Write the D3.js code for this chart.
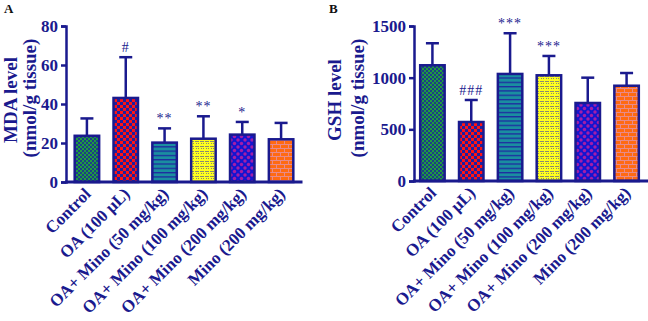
<!DOCTYPE html>
<html>
<head>
<meta charset="utf-8">
<script src="https://cdn.jsdelivr.net/npm/d3@7"></script>
<style>
  body { margin: 0; background: #fff; }
  text { font-family: "Liberation Serif", "Times New Roman", serif; }
</style>
</head>
<body>
<svg id="chart" width="648" height="321"></svg>
<script>
// group names (x axis)
const groups = ["Control", "OA (100 μL)", "OA+ Mino (50 mg/kg)", "OA+ Mino (100 mg/kg)",
    "OA+ Mino (200 mg/kg)", "Mino (200 mg/kg)"];

// panel A - MDA
const mdaMean = [23.7, 43.1, 20.2, 22.2, 24.3, 21.9];
const mdaSD = [8.9, 20.9, 7.3, 11.5, 6.5, 8.4];
const mdaSig = ["", "#", "**", "**", "*", ""];
const mdaTicks = [0, 20, 40, 60, 80];

// panel B - GSH
const gshMean = [1120, 571, 1036, 1023, 755, 922];
const gshSD = [213, 213, 394, 187, 245, 123];
const gshSig = ["", "###", "***", "***", "", ""];
const gshTicks = [0, 500, 1000, 1500];

const navy = "#1a1a8e";
const svg = d3.select("#chart");

// fill patterns, one per group
const defs = svg.append("defs");

let p = defs.append("pattern").attr("id", "pat0").attr("patternUnits", "userSpaceOnUse")
    .attr("width", 4).attr("height", 4);
p.append("rect").attr("width", 4).attr("height", 4).attr("fill", "#1f9a40");
p.append("rect").attr("width", 2).attr("height", 2).attr("fill", "#1b3f86");
p.append("rect").attr("x", 2).attr("y", 2).attr("width", 2).attr("height", 2).attr("fill", "#1b3f86");

p = defs.append("pattern").attr("id", "pat1").attr("patternUnits", "userSpaceOnUse")
    .attr("width", 6).attr("height", 6);
p.append("rect").attr("width", 6).attr("height", 6).attr("fill", "#ff1414");
p.append("rect").attr("width", 3).attr("height", 3).attr("fill", "#2020a0");
p.append("rect").attr("x", 3).attr("y", 3).attr("width", 3).attr("height", 3).attr("fill", "#2020a0");

p = defs.append("pattern").attr("id", "pat2").attr("patternUnits", "userSpaceOnUse")
    .attr("width", 4).attr("height", 4.3);
p.append("rect").attr("width", 4).attr("height", 4.3).attr("fill", "#1a8ea0");
p.append("rect").attr("width", 4).attr("height", 1.3).attr("fill", "#1e2aa0");

p = defs.append("pattern").attr("id", "pat3").attr("patternUnits", "userSpaceOnUse")
    .attr("width", 5).attr("height", 5);
p.append("rect").attr("width", 5).attr("height", 5).attr("fill", "#ffff1e");
p.append("rect").attr("x", 0).attr("y", 1).attr("width", 4).attr("height", 1).attr("fill", "#8a8a70");
p.append("rect").attr("x", 1).attr("y", 3).attr("width", 1).attr("height", 1).attr("fill", "#8a8a70");
p.append("rect").attr("x", 3).attr("y", 3).attr("width", 1).attr("height", 1).attr("fill", "#8a8a70");

p = defs.append("pattern").attr("id", "pat4").attr("patternUnits", "userSpaceOnUse")
    .attr("width", 7).attr("height", 7);
p.append("rect").attr("width", 7).attr("height", 7).attr("fill", "#1414d0");
[[0, 0], [7, 0], [0, 7], [7, 7], [3.5, 3.5]].forEach(c => {
    p.append("circle").attr("cx", c[0]).attr("cy", c[1]).attr("r", 1.7).attr("fill", "#a41ea8");
});

p = defs.append("pattern").attr("id", "pat5").attr("patternUnits", "userSpaceOnUse")
    .attr("width", 8).attr("height", 8);
p.append("rect").attr("width", 8).attr("height", 8).attr("fill", "#ff6a12");
p.append("rect").attr("y", 0).attr("width", 8).attr("height", 1).attr("fill", "#e88a8a");
p.append("rect").attr("y", 4).attr("width", 8).attr("height", 1).attr("fill", "#e88a8a");
p.append("rect").attr("x", 0).attr("y", 0).attr("width", 1).attr("height", 4).attr("fill", "#e88a8a");
p.append("rect").attr("x", 4).attr("y", 4).attr("width", 1).attr("height", 4).attr("fill", "#e88a8a");

function drawPanel(opt) {
    const g = svg.append("g");

    const x = d3.scaleBand().domain(groups).range(opt.xRange)
        .paddingInner(0.37).paddingOuter(0.185);
    const y = d3.scaleLinear().domain([0, opt.max]).range(opt.yRange);

    // panel letter
    g.append("text").attr("x", opt.letterX).attr("y", 13)
        .attr("font-size", 13).attr("font-weight", "bold").attr("fill", "#111")
        .text(opt.letter);

    // y axis
    const yAxis = g.append("g").attr("transform", `translate(${opt.axisX},0)`)
        .call(d3.axisLeft(y).tickValues(opt.ticks).tickSize(5).tickPadding(3).tickFormat(d3.format("d")));
    yAxis.select(".domain").attr("stroke", navy).attr("stroke-width", 2.5);
    yAxis.selectAll(".tick line").attr("stroke", navy).attr("stroke-width", 2.5);
    yAxis.selectAll(".tick text").attr("fill", navy).attr("font-size", 17)
        .attr("font-weight", "bold").attr("font-family", "Liberation Serif, serif");

    // y title (two lines)
    g.append("text").attr("transform", `translate(${opt.titleX},${opt.titleY}) rotate(-90)`)
        .attr("text-anchor", "middle").attr("font-size", 19).attr("font-weight", "bold")
        .attr("fill", navy).text(opt.title);
    g.append("text").attr("transform", `translate(${opt.title2X},${opt.titleY - 2}) rotate(-90)`)
        .attr("text-anchor", "middle").attr("font-size", 19).attr("font-weight", "bold")
        .attr("fill", navy).text("(nmol/g tissue)");

    // error bars (upper only)
    const err = g.selectAll(".err").data(groups).enter().append("g").attr("class", "err");
    err.append("line")
        .attr("x1", d => x(d) + x.bandwidth() / 2).attr("x2", d => x(d) + x.bandwidth() / 2)
        .attr("y1", (d, i) => y(opt.mean[i])).attr("y2", (d, i) => y(opt.mean[i] + opt.sd[i]))
        .attr("stroke", navy).attr("stroke-width", 2.5);
    err.append("line")
        .attr("x1", d => x(d) + x.bandwidth() / 2 - 6.5).attr("x2", d => x(d) + x.bandwidth() / 2 + 6.5)
        .attr("y1", (d, i) => y(opt.mean[i] + opt.sd[i])).attr("y2", (d, i) => y(opt.mean[i] + opt.sd[i]))
        .attr("stroke", navy).attr("stroke-width", 2.5);

    // bars
    g.selectAll(".bar").data(groups).enter().append("rect").attr("class", "bar")
        .attr("x", d => x(d)).attr("width", x.bandwidth())
        .attr("y", (d, i) => y(opt.mean[i]))
        .attr("height", (d, i) => y(0) - y(opt.mean[i]))
        .attr("fill", (d, i) => `url(#pat${i})`)
        .attr("stroke", navy).attr("stroke-width", 2.5);

    // x axis line
    g.append("line").attr("x1", opt.axisX - 1).attr("x2", opt.xRange[1] + 2)
        .attr("y1", y(0)).attr("y2", y(0)).attr("stroke", navy).attr("stroke-width", 3);

    // significance marks
    g.selectAll(".sig").data(groups).enter().append("text").attr("class", "sig")
        .attr("x", d => x(d) + x.bandwidth() / 2)
        .attr("y", (d, i) => y(opt.mean[i] + opt.sd[i]) - 5)
        .attr("text-anchor", "middle").attr("font-size", 14).attr("fill", navy)
        .attr("letter-spacing", 1)
        .text((d, i) => opt.sig[i]);

    // rotated group labels
    g.selectAll(".xl").data(groups).enter().append("text").attr("class", "xl")
        .attr("transform", d => `translate(${x(d) + x.bandwidth() / 2 + 5},${y(0) + 13}) rotate(-45)`)
        .attr("text-anchor", "end").attr("font-size", 17).attr("font-weight", "bold")
        .attr("fill", navy).text(d => d);
}

drawPanel({
    letter: "A", letterX: 4, axisX: 66, xRange: [67.5, 300.5], yRange: [182, 26],
    max: 80, ticks: mdaTicks, mean: mdaMean, sd: mdaSD, sig: mdaSig,
    title: "MDA level", titleX: 17, title2X: 36, titleY: 100
});

drawPanel({
    letter: "B", letterX: 329, axisX: 414, xRange: [413, 646], yRange: [181, 26],
    max: 1500, ticks: gshTicks, mean: gshMean, sd: gshSD, sig: gshSig,
    title: "GSH level", titleX: 341, title2X: 364, titleY: 100
});
</script>
</body>
</html>
